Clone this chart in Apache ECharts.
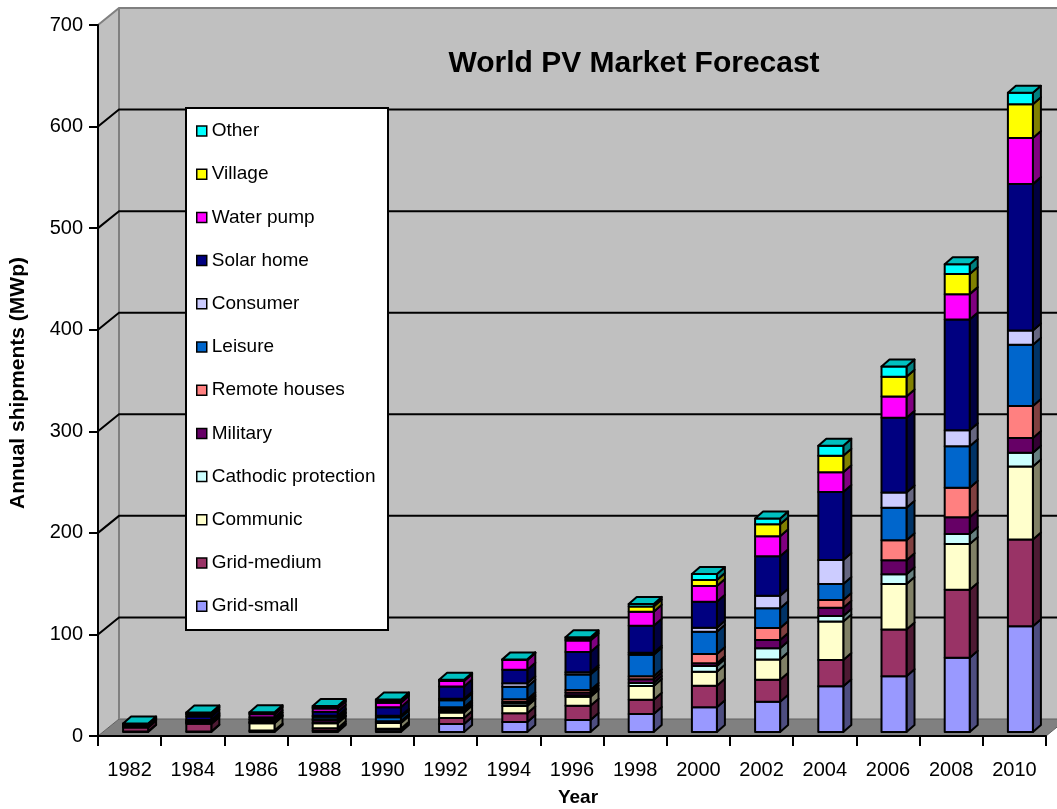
<!DOCTYPE html>
<html>
<head>
<meta charset="utf-8">
<title>World PV Market Forecast</title>
<script src="https://cdn.jsdelivr.net/npm/echarts@6/dist/echarts.min.js"></script>
<style>
  html, body { margin: 0; padding: 0; background: #fff; }
  #chart { width: 1057px; height: 809px; }
</style>
</head>
<body>
<div id="chart"></div>
<script>
// Years on the category axis
const years = ['1982', '1984', '1986', '1988', '1990', '1992', '1994', '1996', '1998', '2000', '2002', '2004', '2006', '2008', '2010'];

// Value axis ticks (MWp)
const yTicks = [0, 100, 200, 300, 400, 500, 600, 700];

// Annual shipments by application, MWp (stacked bottom to top)
const gridSmall  = [0.5, 0.5, 0.5, 1.3, 2.3, 7.9, 9.8, 11.8, 17.7, 24.3, 29.8, 45, 55, 73, 104];
const gridMedium = [4, 7.5, 1, 2.3, 1, 5.9, 8.6, 14.1, 14.1, 21.3, 21.7, 26, 46, 67, 85.5];
const communic   = [0.8, 0.8, 7, 5, 5.5, 5.5, 7.2, 8.8, 13.5, 13.8, 20, 37.7, 44.6, 45, 72];
const cathodic   = [0.3, 0.5, 0.5, 0.5, 0.6, 1.5, 2.5, 1.4, 2.9, 5.6, 11, 5.6, 9.8, 10, 13.5];
const military   = [0.3, 0.5, 0.5, 2.5, 0.6, 1.5, 1.5, 2.7, 3.7, 2.6, 8, 8, 13.8, 16.4, 14.4];
const remote     = [0.3, 0.5, 0.5, 1, 0.6, 2, 2.6, 2.6, 2.9, 9.2, 11.8, 7.6, 19.7, 29, 31.5];
const leisure    = [0.4, 1, 2, 2.5, 4, 7, 12.4, 15.1, 21.3, 21.9, 19.6, 15.8, 32, 41, 60.4];
const consumer   = [0.3, 0.5, 0.5, 0.8, 1.3, 1.5, 3.3, 2.3, 1.9, 4, 12.2, 23.6, 15, 15.7, 14.1];
const solarHome  = [0.4, 3.5, 2, 4, 8.5, 12, 13.4, 20, 26.6, 25.5, 39, 67, 73.5, 109, 144];
const waterPump  = [0.4, 2, 3, 3.3, 4.3, 5.5, 9.6, 11.2, 13.8, 15.5, 19.7, 19.4, 21, 25, 45.3];
const village    = [0.3, 1, 1, 1.2, 1.8, 0.6, 0.3, 1.6, 5.2, 5.9, 11.8, 16.3, 19.4, 19.7, 33.4];
const other      = [0.3, 1, 1, 1.2, 1.6, 0.6, 0.3, 1.6, 2.5, 5.9, 5.6, 9.9, 10, 9.8, 11.2];

// Series definitions: name, values, front colour, side colour
const seriesDefs = [
  { name: 'Grid-small',          values: gridSmall,  front: '#9999FF', side: '#4D4D80' },
  { name: 'Grid-medium',         values: gridMedium, front: '#993366', side: '#4D1A33' },
  { name: 'Communic',            values: communic,   front: '#FFFFCC', side: '#808066' },
  { name: 'Cathodic protection', values: cathodic,   front: '#CCFFFF', side: '#668080' },
  { name: 'Military',            values: military,   front: '#660066', side: '#330033' },
  { name: 'Remote houses',       values: remote,     front: '#FF8080', side: '#804040' },
  { name: 'Leisure',             values: leisure,    front: '#0066CC', side: '#003366' },
  { name: 'Consumer',            values: consumer,   front: '#CCCCFF', side: '#666680' },
  { name: 'Solar home',          values: solarHome,  front: '#000080', side: '#000040' },
  { name: 'Water pump',          values: waterPump,  front: '#FF00FF', side: '#800080' },
  { name: 'Village',             values: village,    front: '#FFFF00', side: '#808000' },
  { name: 'Other',               values: other,      front: '#00FFFF', side: '#008080', top: '#00C0C0' }
];

const FONT = "'Liberation Sans', Arial, sans-serif";

// Pseudo-3D geometry (pixels)
const DEPTH = { dx: 21, dy: 17 };                        // wall / floor depth
const BAR = { w: 25, shiftX: 6, lift: 4, dx: 8, dy: 7 };  // column body

// Back wall, side wall, floor and gridlines
function renderWalls(params, api) {
  const cs = params.coordSys;
  const x0 = cs.x, x1 = cs.x + cs.width;
  const y0 = api.coord([0, yTicks[0]])[1];
  const yTop = api.coord([0, yTicks[yTicks.length - 1]])[1];
  const children = [
    { type: 'rect', shape: { x: x0 + DEPTH.dx, y: yTop - DEPTH.dy, width: x1 - x0 + 40, height: y0 - yTop },
      style: { fill: '#C0C0C0' } },
    { type: 'polygon', shape: { points: [[x0, yTop], [x0 + DEPTH.dx, yTop - DEPTH.dy], [x0 + DEPTH.dx, y0 - DEPTH.dy], [x0, y0]] },
      style: { fill: '#C0C0C0' } },
    { type: 'polygon', shape: { points: [[x0, y0], [x1, y0], [x1 + DEPTH.dx, y0 - DEPTH.dy], [x0 + DEPTH.dx, y0 - DEPTH.dy]] },
      style: { fill: '#808080', stroke: '#606060', lineWidth: 1 } },
    { type: 'line', shape: { x1: x0 + DEPTH.dx, y1: yTop - DEPTH.dy, x2: x0 + DEPTH.dx, y2: y0 - DEPTH.dy },
      style: { stroke: '#808080', lineWidth: 2 } },
    { type: 'polyline', shape: { points: [[x0, yTop], [x0 + DEPTH.dx, yTop - DEPTH.dy], [x1 + DEPTH.dx + 40, yTop - DEPTH.dy]] },
      style: { stroke: '#808080', lineWidth: 2, fill: null } }
  ];
  yTicks.slice(1, -1).forEach(function (v) {
    const y = api.coord([0, v])[1];
    children.push({
      type: 'polyline',
      shape: { points: [[x0, y], [x0 + DEPTH.dx, y - DEPTH.dy], [x1 + DEPTH.dx + 40, y - DEPTH.dy]] },
      style: { stroke: '#000', lineWidth: 2, fill: null }
    });
  });
  return { type: 'group', children: children };
}

// One stacked segment: front face, side face, and the lid on the top series
function makeSegmentRenderer(def, isTop) {
  return function (params, api) {
    const i = api.value(0);
    const pb = api.coord([i, api.value(1)]);
    const pt = api.coord([i, api.value(2)]);
    const cx = pb[0] + BAR.shiftX;
    const yb = pb[1] - BAR.lift;
    const yt = pt[1] - BAR.lift;
    const xl = cx - BAR.w / 2, xr = cx + BAR.w / 2;
    const edge = { stroke: '#000', lineWidth: 2, lineJoin: 'round' };
    const children = [
      { type: 'polygon', shape: { points: [[xr, yt], [xr + BAR.dx, yt - BAR.dy], [xr + BAR.dx, yb - BAR.dy], [xr, yb]] },
        style: Object.assign({ fill: def.side }, edge) },
      { type: 'rect', shape: { x: xl, y: yt, width: BAR.w, height: yb - yt },
        style: Object.assign({ fill: def.front }, edge) }
    ];
    if (isTop) {
      children.push({ type: 'polygon',
        shape: { points: [[xl, yt], [xl + BAR.dx, yt - BAR.dy], [xr + BAR.dx, yt - BAR.dy], [xr, yt]] },
        style: Object.assign({ fill: def.top }, edge) });
    }
    return { type: 'group', children: children };
  };
}

// Build stacked [index, base, top] rows for every series
const running = years.map(function () { return 0; });
const barSeries = seriesDefs.map(function (def, k) {
  const rows = def.values.map(function (v, j) {
    const base = running[j];
    running[j] = base + v;
    return [j, base, base + v];
  });
  return {
    name: def.name,
    type: 'custom',
    z: 3,
    itemStyle: { color: def.front },
    encode: { x: 0, y: [1, 2] },
    renderItem: makeSegmentRenderer(def, k === seriesDefs.length - 1),
    data: rows
  };
});

const chart = echarts.init(document.getElementById('chart'), null, { renderer: 'canvas' });

chart.setOption({
  animation: false,
  backgroundColor: '#fff',
  textStyle: { fontFamily: FONT },
  grid: { left: 98, right: 11, top: 25, bottom: 73, containLabel: false },
  xAxis: {
    type: 'category',
    data: years,
    boundaryGap: true,
    z: 10,
    axisLine: { lineStyle: { color: '#000', width: 2 } },
    axisTick: { show: true, interval: 0, length: 10, lineStyle: { color: '#000', width: 2 } },
    axisLabel: { interval: 0, color: '#000', fontSize: 20, fontFamily: FONT, margin: 24 },
    splitLine: { show: false }
  },
  yAxis: {
    type: 'value',
    min: yTicks[0],
    max: yTicks[yTicks.length - 1],
    interval: 100,
    z: 10,
    axisLine: { show: true, lineStyle: { color: '#000', width: 2 } },
    axisTick: { show: true, length: 9, lineStyle: { color: '#000', width: 2 } },
    axisLabel: { color: '#000', fontSize: 20, fontFamily: FONT, margin: 15 },
    splitLine: { show: false }
  },
  legend: {
    orient: 'vertical',
    left: 196,
    top: 121,
    padding: 0,
    itemGap: 23.2,
    itemWidth: 10,
    itemHeight: 10,
    icon: 'rect',
    z: 21,
    itemStyle: { borderColor: '#000', borderWidth: 1.5 },
    textStyle: { color: '#000', fontSize: 19, lineHeight: 20, fontFamily: FONT },
    data: seriesDefs.map(function (d) { return d.name; }).reverse()
  },
  graphic: [
    { type: 'rect', z: 20, shape: { x: 186, y: 108, width: 202, height: 522 },
      style: { fill: '#fff', stroke: '#000', lineWidth: 2 } },
    { type: 'text', z: 20, x: 634, y: 64,
      style: { text: 'World PV Market Forecast', font: "bold 30px " + FONT, fill: '#000', align: 'center', verticalAlign: 'middle' } },
    { type: 'text', z: 20, x: 18, y: 383, rotation: Math.PI / 2,
      style: { text: 'Annual shipments (MWp)', font: "bold 21px " + FONT, fill: '#000', align: 'center', verticalAlign: 'middle' } },
    { type: 'text', z: 20, x: 578, y: 798,
      style: { text: 'Year', font: "bold 19px " + FONT, fill: '#000', align: 'center', verticalAlign: 'middle' } }
  ],
  series: [
    { type: 'custom', name: '__walls', z: 1, silent: true, data: [[0, 0]], encode: { x: 0, y: 1 }, renderItem: renderWalls }
  ].concat(barSeries)
});
</script>
</body>
</html>
